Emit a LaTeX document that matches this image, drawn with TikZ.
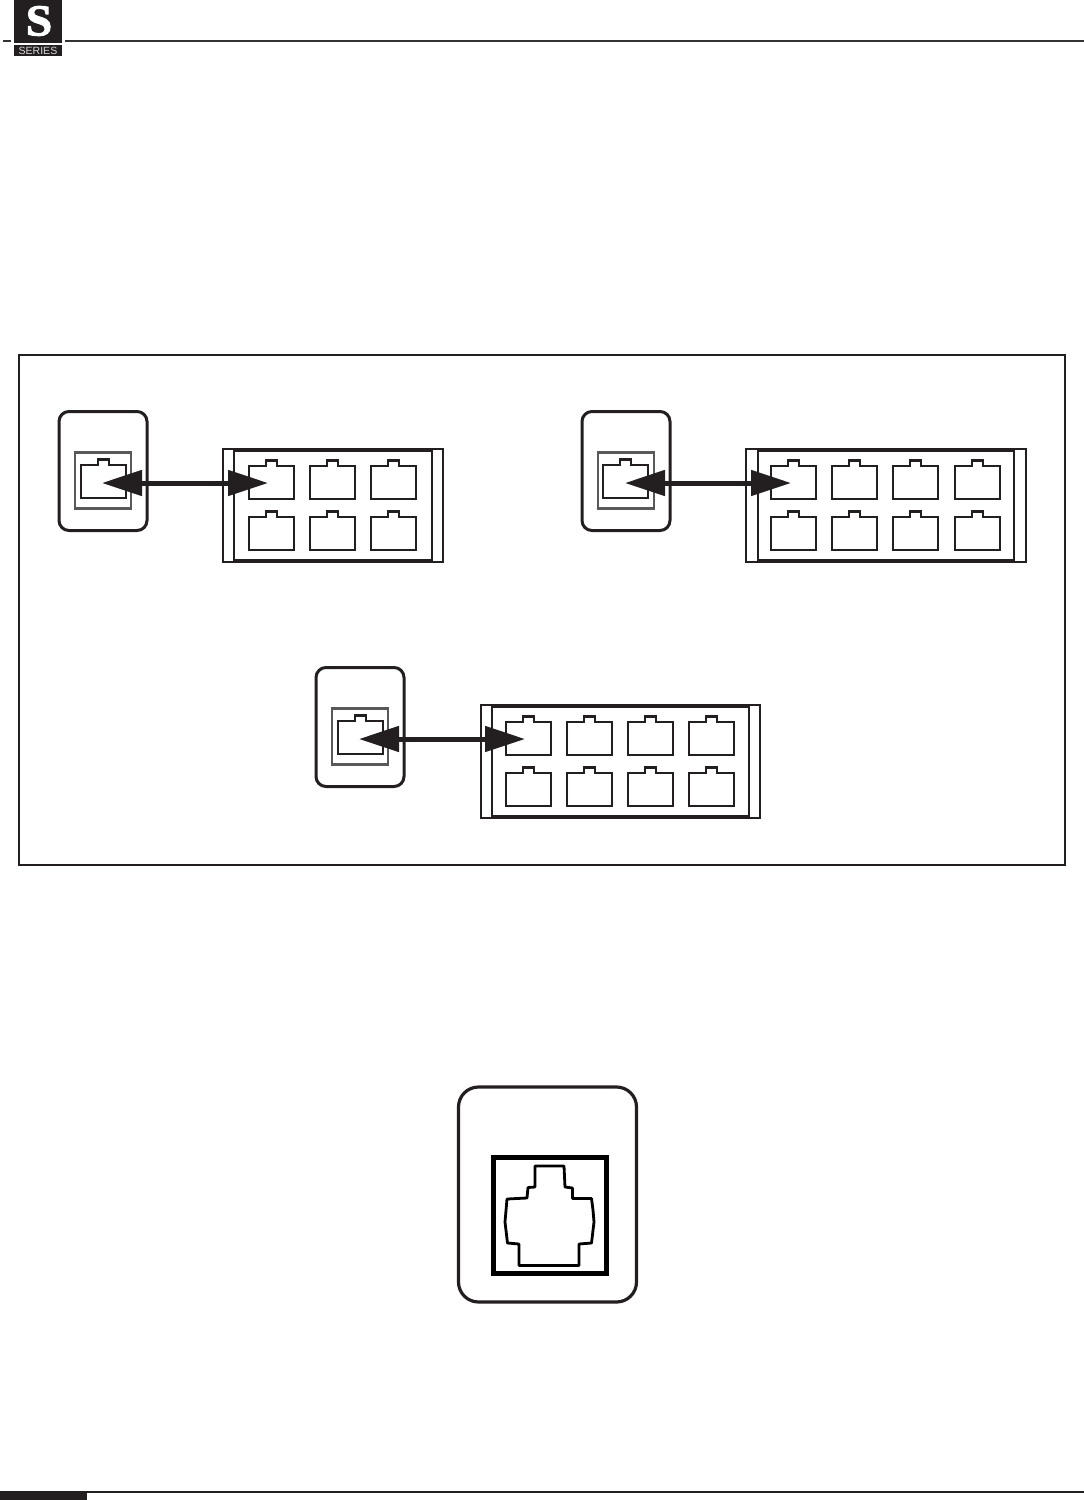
\documentclass[tikz,border=0pt]{standalone}
\usepackage{fontspec}
\usepackage{xcolor}
\setmainfont{Liberation Serif}
\newfontfamily\labelfont{Liberation Sans}
\newfontfamily\badgefont[FakeBold=2.5,FakeStretch=1.08]{Liberation Serif Bold}
\definecolor{inkblack}{HTML}{231F20}
\usetikzlibrary{arrows.meta}
\tikzset{
  wallplate/.style={draw=inkblack, line width=3pt, rounded corners=10pt, minimum width=88pt, minimum height=119pt, inner sep=0pt},
  jackframe/.style={draw=black!65, line width=2.2pt, minimum width=56pt, minimum height=56pt, inner sep=0pt},
  duplex/.style={draw=inkblack, line width=5pt, {Triangle[length=40pt,width=25pt]}-{Triangle[length=40pt,width=25pt]}},
  port/.pic={\draw[inkblack, line width=2.2pt] (0,0) -- (17,0) -- (17,-5.5) -- (28,-5.5) -- (28,0) -- (45,0) -- (45,33) -- (0,33) -- cycle;},
  earline/.style={draw=inkblack, line width=2pt},
  railline/.style={draw=inkblack, line width=4pt}
}
\begin{document}
\begin{tikzpicture}[x=1pt, y=-1pt]
\useasboundingbox (0,0) rectangle (1084,1500);
% header
\node[fill=inkblack, minimum width=48pt, minimum height=43pt, inner sep=0pt] (badge) at (38,21.5) {};
\node[text=white, inner sep=0pt, font=\badgefont\fontsize{44}{44}\selectfont] (badgeS) at (39,21) {S};
\node[fill=inkblack, text=white!85!black, minimum width=48pt, minimum height=11pt, inner sep=0pt, font=\labelfont\fontsize{10.5}{10.5}\selectfont] (badgeT) at (38,50.5) {SERIES};
\coordinate (hl0) at (3,41);
\coordinate (hl1) at (11,41);
\coordinate (hr0) at (65,41);
\coordinate (hr1) at (1084,41);
\draw[black!80, line width=2.2pt] (hl0) -- (hl1);
\draw[black!80, line width=2.2pt] (hr0) -- (hr1);
% outer frame
\node[draw=inkblack, line width=2pt, minimum width=1046pt, minimum height=510pt, inner sep=0pt] (frame) at (542,610) {};
% first group
\node[wallplate] (plate1) at (103,471) {};
\node[jackframe] (jack1) at (103,480.5) {};
\pic at (81,465) {port};
\draw[earline] (223,449) rectangle (443,562);
\draw[earline] (234,449) -- (234,562);
\draw[earline] (432,449) -- (432,562);
\draw[railline] (233,449.5) -- (433,449.5);
\draw[railline] (233,561) -- (433,561);
\foreach \x in {249,310,371} {
  \pic at (\x,466) {port};
  \pic at (\x,517) {port};
}
\coordinate (tip1a) at (102,483);
\coordinate (tip1b) at (268,483);
\draw[duplex] (tip1a) -- (tip1b);
% second group
\node[wallplate] (plate2) at (626,471) {};
\node[jackframe] (jack2) at (626,480.5) {};
\pic at (603,465) {port};
\draw[earline] (746,449) rectangle (1026,562);
\draw[earline] (758,449) -- (758,562);
\draw[earline] (1014,449) -- (1014,562);
\draw[railline] (757,449.5) -- (1015,449.5);
\draw[railline] (757,561) -- (1015,561);
\foreach \x in {771,832,893,955} {
  \pic at (\x,466) {port};
  \pic at (\x,517) {port};
}
\coordinate (tip2a) at (625,483);
\coordinate (tip2b) at (791,483);
\draw[duplex] (tip2a) -- (tip2b);
% third group
\node[wallplate] (plate3) at (360,727) {};
\node[jackframe] (jack3) at (360,736.5) {};
\pic at (338,721) {port};
\draw[earline] (481,705) rectangle (760,818);
\draw[earline] (492,705) -- (492,818);
\draw[earline] (749,705) -- (749,818);
\draw[railline] (491,705.5) -- (750,705.5);
\draw[railline] (491,817) -- (750,817);
\foreach \x in {506,567,628,689} {
  \pic at (\x,722) {port};
  \pic at (\x,773) {port};
}
\coordinate (tip3a) at (359,739);
\coordinate (tip3b) at (525,739);
\draw[duplex] (tip3a) -- (tip3b);
% socket close up
\node[draw=inkblack, line width=3.2pt, rounded corners=20pt, minimum width=178pt, minimum height=215pt, inner sep=0pt] (bigplate) at (547.5,1194.5) {};
\node[draw=black, line width=5pt, minimum width=113pt, minimum height=116pt, inner sep=0pt] (bigframe) at (549.5,1215) {};
\draw[black, line width=2.8pt, line join=round] (535,1166) -- (564,1166) -- (565,1187) -- (572.5,1188) -- (572.5,1198.5)
  -- (591.5,1198.5) -- (593,1210) -- (594,1222) -- (591.5,1243) -- (579,1244) -- (579,1265.5) -- (519,1265.5)
  -- (519,1244) -- (507.5,1243) -- (505,1222) -- (507,1199) -- (527,1198) -- (528,1187.5) -- (535,1187) -- cycle;
% footer
\node[fill=inkblack, minimum width=87pt, minimum height=9pt, inner sep=0pt] (footbar) at (43.5,1495.5) {};
\coordinate (fl0) at (87,1492);
\coordinate (fl1) at (1084,1492);
\draw[inkblack, line width=2pt] (fl0) -- (fl1);
\end{tikzpicture}
\end{document}
